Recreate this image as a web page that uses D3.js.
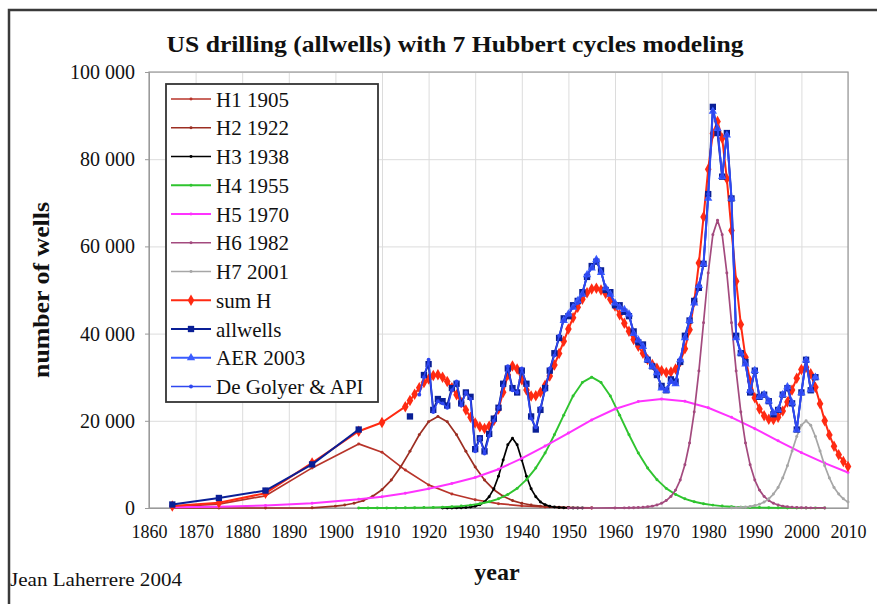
<!DOCTYPE html>
<html>
<head>
<meta charset="utf-8">
<script src="https://cdn.jsdelivr.net/npm/d3@7"></script>
<style>
  body { margin: 0; background: #fff; }
  svg { display: block; }
  svg text { font-family: "Liberation Serif", "DejaVu Serif", "Times New Roman", Times, serif !important; fill: #111; }
</style>
</head>
<body>
<div id="chart"></div>
<script>
// ---- data ----
var yTicks = [0, 20000, 40000, 60000, 80000, 100000];
var xTicks = [1860, 1870, 1880, 1890, 1900, 1910, 1920, 1930, 1940, 1950, 1960, 1970, 1980, 1990, 2000, 2010];

// Hubbert cycles
var h1Years = [1865, 1875, 1885, 1895, 1905, 1910, 1915, 1920, 1925, 1930, 1935, 1940, 1945, 1950, 1955];
var h1Values = [300, 900, 2800, 9200, 14700, 12800, 8700, 5300, 3200, 1900, 1000, 500, 250, 100, 0];

var h2Years = [1865, 1875, 1885, 1895, 1900, 1902, 1904, 1906, 1908, 1910, 1912, 1914, 1916, 1918, 1920, 1922,
  1924, 1926, 1928, 1930, 1932, 1934, 1936, 1938, 1940, 1942, 1944, 1946, 1948, 1950, 1955];
var h2Values = [0, 0, 0, 50, 430, 680, 1090, 1700, 2700, 4200, 6400, 9400, 13000, 16800, 19800, 21000,
  19800, 16800, 13000, 9400, 6400, 4200, 2700, 1700, 1090, 680, 430, 260, 160, 100, 30];

var h3Start = 1923;
var h3Values = [0, 5, 10, 35, 65, 120, 220, 400, 770, 1400, 2600, 4400, 7300, 11000, 14500, 16000,
  14500, 11000, 7300, 4400, 2600, 1400, 770, 400, 220, 120, 65, 35, 10, 5, 0];

var h4Years = [1905, 1907, 1909, 1911, 1913, 1915, 1917, 1919, 1921, 1923, 1925, 1927, 1929, 1931, 1933, 1935,
  1937, 1939, 1941, 1943, 1945, 1947, 1949, 1951, 1953, 1955, 1957, 1959, 1961, 1963, 1965, 1967, 1969,
  1971, 1973, 1975, 1977, 1979, 1981, 1983, 1985, 1987, 1989, 1991, 1993, 1995, 1997, 1999, 2001, 2003, 2005];
var h4Values = [5, 7, 10, 17, 27, 40, 60, 90, 130, 200, 300, 440, 660, 970, 1440, 2100,
  3100, 4500, 6500, 9150, 12600, 16800, 21300, 25700, 28800, 30000, 28800, 25700, 21300, 16800, 12600, 9150, 6500,
  4500, 3100, 2100, 1440, 970, 660, 440, 300, 200, 130, 90, 60, 40, 27, 17, 10, 7, 5];

var h5Years = [1865, 1875, 1885, 1895, 1905, 1910, 1915, 1920, 1925, 1930, 1935, 1940, 1945, 1950, 1955,
  1960, 1965, 1970, 1975, 1980, 1985, 1990, 1995, 2000, 2005, 2010];
var h5Values = [150, 300, 600, 1100, 2000, 2600, 3400, 4400, 5600, 7000, 8900, 11400, 14200, 17200, 20200,
  22700, 24400, 25000, 24500, 23000, 20800, 18200, 15400, 12700, 10300, 8150];

var h6Years = [1950, 1955, 1960, 1962, 1963, 1964, 1965, 1966, 1967, 1968, 1969, 1970, 1971, 1972, 1973, 1974,
  1975, 1976, 1977, 1978, 1979, 1980, 1981, 1982, 1983, 1984, 1985, 1986, 1987, 1988, 1989, 1990, 1991,
  1992, 1993, 1994, 1995, 1996, 1997, 1998, 1999, 2000, 2001, 2002, 2005];
var h6Values = [0, 3, 10, 30, 45, 70, 110, 170, 270, 430, 690, 1080, 1700, 2650, 4100, 6400,
  9900, 14900, 22000, 31400, 42500, 53900, 62700, 66000, 62700, 53900, 42500, 31400, 22000, 14900, 9900, 6400, 4100,
  2650, 1700, 1080, 690, 430, 270, 170, 110, 70, 45, 30, 8];

var h7Start = 1985;
var h7Values = [60, 95, 150, 230, 360, 560, 870, 1350, 2100, 3200, 4700, 6900, 9700, 13100, 16400, 19000, 20000,
  19000, 16400, 13100, 9700, 6900, 4700, 3200, 2100, 1350];

// sum of the cycles
var sumHYears = [1865, 1875, 1885, 1895, 1905, 1910];
var sumHEarly = [450, 1200, 3400, 10350, 17600, 19600];
var sumHStart = 1915;
var sumHValues = [23240, 24650, 26100, 27570, 28780, 29610, 30370, 30540, 30010, 29000,
  27610, 25980, 24210, 22500, 20800, 19500, 18620, 18240, 18780, 20090,
  22700, 26570, 30500, 32550, 31900, 29390, 27070, 25700, 25730, 26570,
  28160, 30280, 32820, 35440, 38230, 41040, 43660, 46020, 47890, 49360,
  50230, 50400, 50000, 49200, 47900, 46300, 44340, 42380, 40520, 38660,
  37110, 35490, 34060, 32890, 32070, 31480, 31100, 31200, 31900, 33570,
  36500, 40870, 47340, 56180, 66770, 77700, 85920, 88660, 84820, 75500,
  63660, 52030, 42110, 34560, 29110, 25270, 22700, 21160, 20380, 20290,
  20830, 22220, 24320, 27070, 29770, 31780, 32270, 30770, 27680, 23890,
  20000, 16770, 14140, 12210, 10680, 9500];

// observed drilling
var allwellsEarlyYears = [1865, 1875, 1885, 1895, 1905];
var allwellsEarly = [800, 2300, 4000, 10000, 18000];
var allwellsLoneYear = 1916;
var allwellsLone = 21000;
var allwellsStart = 1919;
var allwellsValues = [30500, 33000, 22500, 25000, 24500, 23500, 27500, 28500, 24000,
  26500, 25500, 13500, 16000, 13000, 17000, 20500, 23000, 28500, 32000,
  27500, 26500, 31500, 28500, 21000, 18000, 22500, 27500, 31500, 35500,
  39000, 43500, 44000, 46500, 47500, 49500, 53000, 55500, 56500, 54500,
  50000, 49500, 46500, 46500, 45000, 44000, 40500, 38000, 37500, 34000,
  32500, 30500, 28000, 27000, 29500, 29000, 33500, 39500, 43000, 47500,
  50500, 56000, 72000, 92000, 86000, 76000, 86000, 71000, 39500, 35500,
  33500, 26500, 31500, 25500, 26000, 24500, 21500, 22500, 26000, 27500,
  24000, 18000, 26500, 34000, 27000, 30000];

var aerStart = 1949;
var aerValues = [43000, 44500, 46000, 47500, 49000, 53500, 55000, 57000, 54000,
  50500, 49000, 47000, 46000, 45500, 44500, 40000, 38500, 37000, 34000,
  32500, 31000, 27500, 27000, 29000, 28500, 34000, 39000, 43000, 47000,
  51000, 56000, 71000, 91000, 87000, 76000, 85500, 71000, 39000, 35500,
  33000, 27000, 31500, 25500, 26000, 24500, 21800, 22500, 26000, 27800,
  24100, 17900, 26400, 33900, 27100, 30000];

var deGolyerStart = 1918;
var deGolyerValues = [26000, 30000, 34000, 22000, 24500, 24000, 23000, 27000, 29000, 23500,
  26500, 25000, 13000, 16000, 12500, 16500, 20000, 23000, 28000, 32500,
  27000, 26500, 32000, 28000, 20500, 18500, 23000, 27000, 32000, 35000,
  39500, 43000, 44500, 46000, 47000, 49000, 53500, 55000, 57000, 54000,
  50500, 49000, 47000, 46000, 45500, 44500, 40000, 38500, 37000, 34000,
  32500, 31000, 27500, 27000, 29000, 28500, 34000, 39000, 43000, 47000,
  51000, 56000, 72000, 91000, 87000, 76000, 85500, 71000, 39000, 35500,
  33000, 26500, 31500, 25500, 26000, 24800, 21800, 22500, 26000, 27800,
  24100, 17900, 26400, 33900, 27100];

// ---- layout ----
var svgWidth = 877, svgHeight = 604;
var margin = { top: 72, left: 149, right: 29, bottom: 96 };
var width = svgWidth - margin.left - margin.right;
var height = svgHeight - margin.top - margin.bottom;
var serif = '"Liberation Serif", "DejaVu Serif", "Times New Roman", serif';

function yearly(start, vals) {
  return vals.map(function(v, i) { return [start + i, v]; });
}
function pairs(years, vals) {
  return years.map(function(yr, i) { return [yr, vals[i]]; });
}

var svg = d3.select("#chart").append("svg")
  .attr("width", svgWidth)
  .attr("height", svgHeight)
  .attr("font-family", serif);

svg.append("rect").attr("width", svgWidth).attr("height", svgHeight).attr("fill", "#fff");

// outer frame of the figure
svg.append("rect")
  .attr("x", 9).attr("y", 10)
  .attr("width", 900).attr("height", 700)
  .attr("fill", "none")
  .attr("stroke", "#3a3a3a")
  .attr("stroke-width", 2.5);

var chartGroup = svg.append("g")
  .attr("transform", `translate(${margin.left}, ${margin.top})`);

var xScale = d3.scaleLinear().domain([1860, 2010]).range([0, width]);
var yScale = d3.scaleLinear().domain([0, 100000]).range([height, 0]);

// grid
var gridY = chartGroup.append("g")
  .call(d3.axisLeft(yScale).tickValues(yTicks).tickSize(-width).tickFormat(""));
var gridX = chartGroup.append("g")
  .attr("transform", `translate(0, ${height})`)
  .call(d3.axisBottom(xScale).tickValues(xTicks).tickSize(-height).tickFormat(""));
[gridX, gridY].forEach(function(g) {
  g.select(".domain").remove();
  g.selectAll("line").attr("stroke", "#dcdcdc").attr("stroke-width", 1);
});

chartGroup.append("rect")
  .attr("width", width).attr("height", height)
  .attr("fill", "none").attr("stroke", "#9a9a9a").attr("stroke-width", 1.2);

// axes
var fmt = function(d) { return d3.format(",")(d).replace(/,/g, " "); };
var yAxis = chartGroup.append("g")
  .call(d3.axisLeft(yScale).tickValues(yTicks).tickSize(4).tickPadding(10).tickFormat(fmt))
  .attr("font-family", serif);
yAxis.selectAll("text").attr("font-size", "20px").attr("fill", "#222");

var xAxis = chartGroup.append("g")
  .attr("transform", `translate(0, ${height})`)
  .call(d3.axisBottom(xScale).tickValues(xTicks).tickSize(0).tickPadding(17).tickFormat(d3.format("d")))
  .attr("font-family", serif);
xAxis.selectAll("text").attr("font-size", "18px").attr("fill", "#222");
[xAxis, yAxis].forEach(function(g) {
  g.select(".domain").attr("stroke", "#9a9a9a");
  g.selectAll(".tick line").attr("stroke", "#9a9a9a");
});

// series
var series = [
  { name: "H1 1905", color: "#b8342a", w: 1.7, sym: d3.symbolCircle, size: 7, segs: [pairs(h1Years, h1Values)] },
  { name: "H2 1922", color: "#9c2e22", w: 1.7, sym: d3.symbolCircle, size: 7, segs: [pairs(h2Years, h2Values)] },
  { name: "H3 1938", color: "#000000", w: 1.7, sym: d3.symbolCircle, size: 7, segs: [yearly(h3Start, h3Values)] },
  { name: "H4 1955", color: "#2fc42f", w: 1.9, sym: d3.symbolCircle, size: 7, segs: [pairs(h4Years, h4Values)] },
  { name: "H5 1970", color: "#ff33ff", w: 2, sym: d3.symbolCircle, size: 7, segs: [pairs(h5Years, h5Values)] },
  { name: "H6 1982", color: "#a34a7e", w: 1.7, sym: d3.symbolCircle, size: 7, segs: [pairs(h6Years, h6Values)] },
  { name: "H7 2001", color: "#a6a6a6", w: 1.7, sym: d3.symbolCircle, size: 7, segs: [yearly(h7Start, h7Values)] },
  { name: "sum H", color: "#ff2a12", w: 2, sym: d3.symbolDiamond, size: 38,
    segs: [pairs(sumHYears, sumHEarly).concat(yearly(sumHStart, sumHValues))] },
  { name: "allwells", color: "#0a1f96", w: 2, sym: d3.symbolSquare, size: 40,
    segs: [pairs(allwellsEarlyYears, allwellsEarly), [[allwellsLoneYear, allwellsLone]], yearly(allwellsStart, allwellsValues)] },
  { name: "AER 2003", color: "#3a5cff", w: 1.8, sym: d3.symbolTriangle, size: 30, segs: [yearly(aerStart, aerValues)] },
  { name: "De Golyer & API", color: "#2f47f0", w: 1.6, sym: d3.symbolCircle, size: 12, segs: [yearly(deGolyerStart, deGolyerValues)] }
];

var line = d3.line()
  .x(function(d) { return xScale(d[0]); })
  .y(function(d) { return yScale(d[1]); });

series.forEach(function(s) {
  var g = chartGroup.append("g");
  s.segs.forEach(function(seg) {
    g.append("path")
      .attr("d", line(seg))
      .attr("fill", "none")
      .attr("stroke", s.color)
      .attr("stroke-width", s.w)
      .attr("stroke-linejoin", "round");
    g.selectAll(null)
      .data(seg)
      .enter()
      .append("path")
      .attr("transform", function(d) { return `translate(${xScale(d[0])}, ${yScale(d[1])})`; })
      .attr("d", d3.symbol().type(s.sym).size(s.size))
      .attr("fill", s.color);
  });
});

// legend
var legend = svg.append("g");
legend.append("rect")
  .attr("x", 166).attr("y", 84)
  .attr("width", 212).attr("height", 318)
  .attr("fill", "#fff")
  .attr("stroke", "#333")
  .attr("stroke-width", 1.8);

series.forEach(function(s, i) {
  var cy = 99 + i * 28.75;
  legend.append("line")
    .attr("x1", 171).attr("x2", 211)
    .attr("y1", cy).attr("y2", cy)
    .attr("stroke", s.color).attr("stroke-width", s.w);
  legend.append("path")
    .attr("transform", `translate(191, ${cy})`)
    .attr("d", d3.symbol().type(s.sym).size(s.size))
    .attr("fill", s.color);
  legend.append("text")
    .attr("x", 216).attr("y", cy + 7.5)
    .attr("font-size", "21px")
    .text(s.name);
});

// titles
svg.append("text")
  .attr("x", 455).attr("y", 52)
  .attr("text-anchor", "middle")
  .attr("font-size", "24px")
  .attr("font-weight", "bold")
  .attr("textLength", 577)
  .attr("lengthAdjust", "spacingAndGlyphs")
  .text("US drilling (allwells) with 7 Hubbert cycles modeling");

svg.append("text")
  .attr("transform", "translate(49, 290) rotate(-90)")
  .attr("text-anchor", "middle")
  .attr("font-size", "24px")
  .attr("font-weight", "bold")
  .attr("textLength", 176)
  .attr("lengthAdjust", "spacingAndGlyphs")
  .text("number of wells");

svg.append("text")
  .attr("x", 497).attr("y", 580)
  .attr("text-anchor", "middle")
  .attr("font-size", "24px")
  .attr("font-weight", "bold")
  .text("year");

svg.append("text")
  .attr("x", 10).attr("y", 586)
  .attr("font-size", "18px")
  .attr("textLength", 172)
  .attr("lengthAdjust", "spacingAndGlyphs")
  .text("Jean Laherrere 2004");
</script>
</body>
</html>
